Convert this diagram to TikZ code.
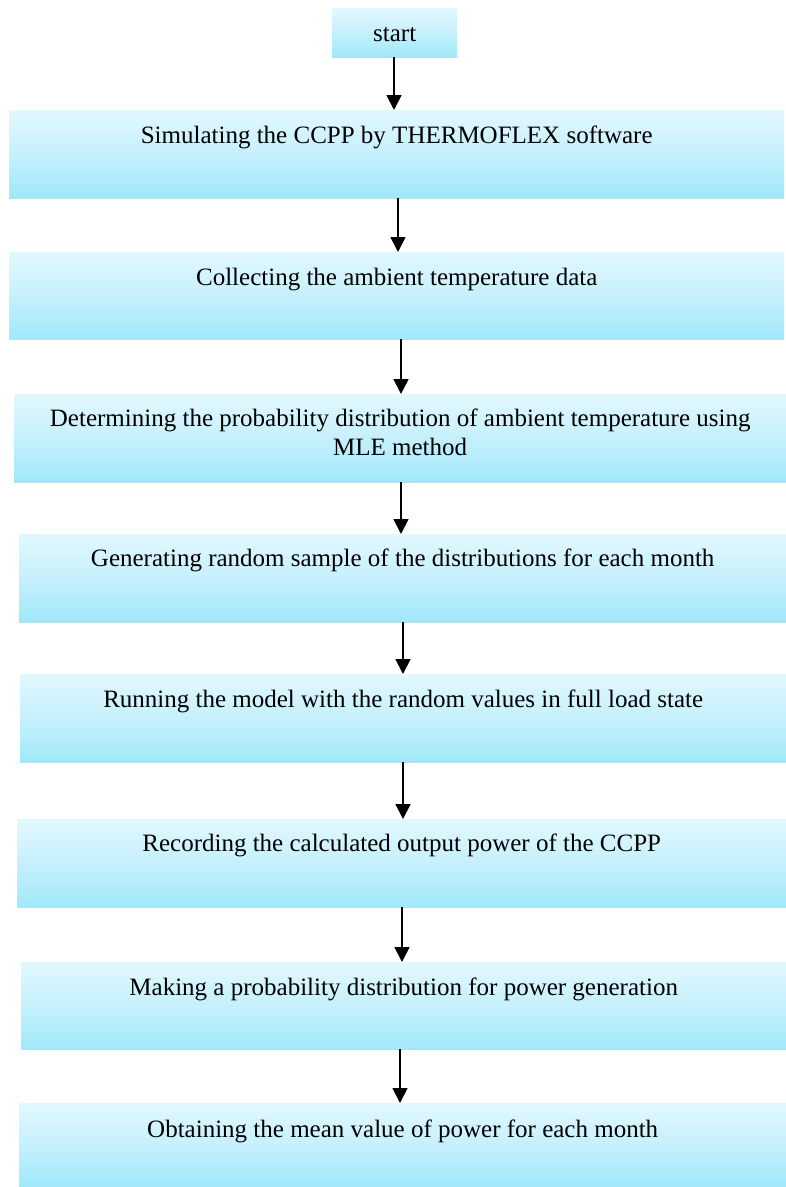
\documentclass[tikz,border=0pt]{standalone}
\usepackage{fontspec}
\setmainfont{Liberation Serif}
\begin{document}
\begin{tikzpicture}[x=1pt,y=-1pt,
  boxst/.style={rectangle, draw=none, top color=boxtop, bottom color=boxbot, middle color=boxmid, anchor=north west, inner sep=0pt},
  txt/.style={font=\fontsize{25}{29}\selectfont, align=center, anchor=base, inner sep=0pt},
  arr/.style={-{Triangle[length=15pt,width=15pt]}, line width=1.8pt, black}]
\usetikzlibrary{arrows.meta}
\definecolor{boxtop}{HTML}{E2F8FE}
\definecolor{boxmid}{HTML}{C6F0FC}
\definecolor{boxbot}{HTML}{A0E8FB}
\useasboundingbox (0,0) rectangle (786,1187);
\fill[white] (0,0) rectangle (786,1187);
% boxes
\node[boxst, minimum width=125pt, minimum height=49pt] (s) at (332,8) {};
\node[boxst, minimum width=775pt, minimum height=88pt] (b1) at (9,110) {};
\node[boxst, minimum width=775pt, minimum height=87pt] (b2) at (9,252) {};
\node[boxst, minimum width=772pt, minimum height=88pt] (b3) at (14,394) {};
\node[boxst, minimum width=767pt, minimum height=88pt] (b4) at (19,534) {};
\node[boxst, minimum width=766pt, minimum height=88pt] (b5) at (20,674) {};
\node[boxst, minimum width=769pt, minimum height=88pt] (b6) at (17,819) {};
\node[boxst, minimum width=765pt, minimum height=87pt] (b7) at (21,962) {};
\node[boxst, minimum width=767pt, minimum height=84pt] (b8) at (19,1103) {};
% texts
\node[txt] (ts) at (s.center |- 0,41) {start};
\node[txt] (t1) at (b1.center |- 0,143) {Simulating the CCPP by THERMOFLEX software};
\node[txt] (t2) at (b2.center |- 0,285) {Collecting the ambient temperature data};
\node[txt] (t3) at (b3.center |- 0,455) {Determining the probability distribution of ambient temperature using\\MLE method};
\node[txt] (t4) at (b4.center |- 0,566) {Generating random sample of the distributions for each month};
\node[txt] (t5) at (b5.center |- 0,707) {Running the model with the random values in full load state};
\node[txt] (t6) at (b6.center |- 0,851) {Recording the calculated output power of the CCPP};
\node[txt] (t7) at (b7.center |- 0,995) {Making a probability distribution for power generation};
\node[txt] (t8) at (b8.center |- 0,1137) {Obtaining the mean value of power for each month};
% arrows
\draw[arr] (s.south -| 394,0) -- (b1.north -| 394,0);
\draw[arr] (b1.south -| 398,0) -- (b2.north -| 398,0);
\draw[arr] (b2.south -| 401,0) -- (b3.north -| 401,0);
\draw[arr] (b3.south -| 401,0) -- (b4.north -| 401,0);
\draw[arr] (b4.south -| 403,0) -- (b5.north -| 403,0);
\draw[arr] (b5.south -| 403,0) -- (b6.north -| 403,0);
\draw[arr] (b6.south -| 402,0) -- (b7.north -| 402,0);
\draw[arr] (b7.south -| 400,0) -- (b8.north -| 400,0);
\end{tikzpicture}
\end{document}
